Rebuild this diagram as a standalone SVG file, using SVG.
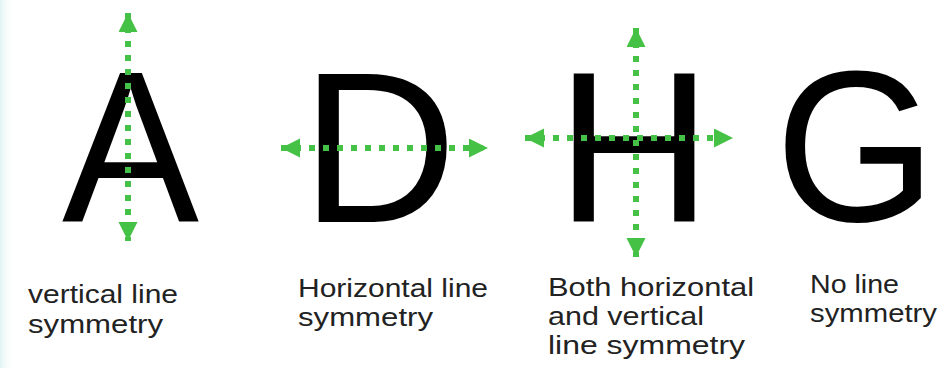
<svg xmlns="http://www.w3.org/2000/svg" width="939" height="368" viewBox="0 0 939 368">
  <style>
    .big { font-family: "Liberation Sans", Arial, sans-serif; font-size: 216px; fill: #000; }
    .lbl { font-family: "Liberation Sans", Arial, sans-serif; font-size: 26px; fill: #222; }
    .dots { stroke: #45c246; stroke-width: 6; stroke-dasharray: 6 8; fill: none; }
  </style>
  <defs>
    <linearGradient id="edge" x1="0" y1="0" x2="1" y2="0">
      <stop offset="0" stop-color="#dff4f2"/>
      <stop offset="1" stop-color="#ffffff" stop-opacity="0"/>
    </linearGradient>
    <marker id="head" markerUnits="userSpaceOnUse" markerWidth="20" markerHeight="20" refX="19" refY="9.5" orient="auto-start-reverse">
      <path d="M0,0 L19,9.5 L0,19 z" fill="#45c246"/>
    </marker>
  </defs>
  <rect width="939" height="368" fill="#ffffff"/>
  <rect x="0" y="0" width="14" height="368" fill="url(#edge)"/>

  <g id="node-A">
    <text class="big" x="62" y="221" textLength="137" lengthAdjust="spacingAndGlyphs">A</text>
    <text class="lbl" x="28" y="303" textLength="150" lengthAdjust="spacingAndGlyphs">vertical line</text>
    <text class="lbl" x="28" y="333" textLength="135" lengthAdjust="spacingAndGlyphs">symmetry</text>
  </g>
  <g id="node-D">
    <text class="big" x="301" y="222">D</text>
    <text class="lbl" x="298" y="297" textLength="190" lengthAdjust="spacingAndGlyphs">Horizontal line</text>
    <text class="lbl" x="298" y="326" textLength="135" lengthAdjust="spacingAndGlyphs">symmetry</text>
  </g>
  <g id="node-H">
    <text class="big" x="556" y="222">H</text>
    <text class="lbl" x="548" y="296" textLength="206" lengthAdjust="spacingAndGlyphs">Both horizontal</text>
    <text class="lbl" x="548" y="325" textLength="156" lengthAdjust="spacingAndGlyphs">and vertical</text>
    <text class="lbl" x="548" y="354" textLength="197" lengthAdjust="spacingAndGlyphs">line symmetry</text>
  </g>
  <g id="node-G">
    <text class="big" transform="translate(775,221) scale(0.96,1)" x="0" y="0">G</text>
    <text class="lbl" x="810" y="293" textLength="89" lengthAdjust="spacingAndGlyphs">No line</text>
    <text class="lbl" x="810" y="322" textLength="127" lengthAdjust="spacingAndGlyphs">symmetry</text>
  </g>

  <g id="connectors">
    <line class="dots" x1="128" y1="13" x2="128" y2="241" marker-start="url(#head)" marker-end="url(#head)"/>
    <line class="dots" x1="281" y1="148" x2="488" y2="148" marker-start="url(#head)" marker-end="url(#head)"/>
    <line class="dots" x1="636" y1="28" x2="636" y2="257" marker-start="url(#head)" marker-end="url(#head)"/>
    <line class="dots" x1="525" y1="138" x2="733" y2="138" marker-start="url(#head)" marker-end="url(#head)"/>
  </g>
</svg>
